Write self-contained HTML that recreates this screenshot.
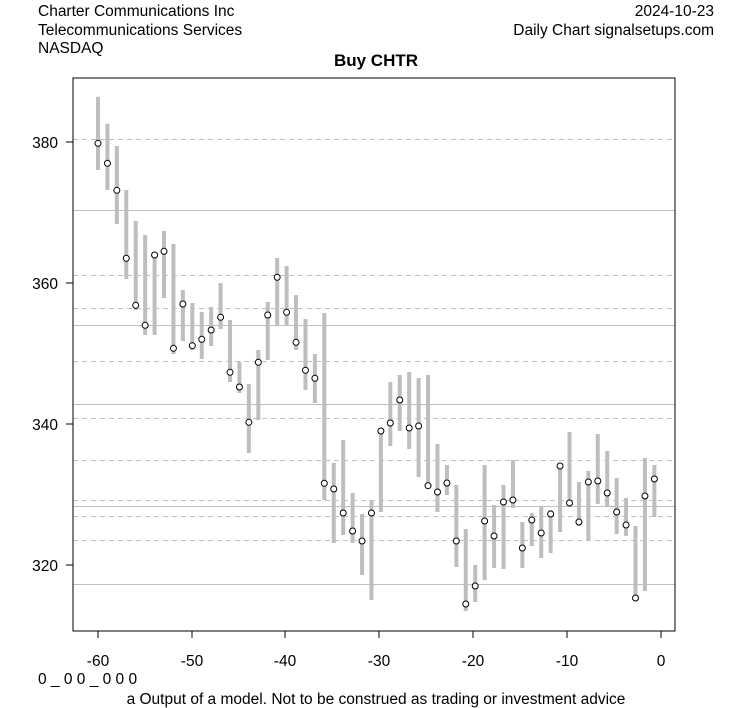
<!DOCTYPE html>
<html><head><meta charset="utf-8"><style>
body{margin:0;background:#fff;}
svg{display:block;font-family:"Liberation Sans",Arial,sans-serif;}
</style></head><body>
<svg width="753" height="708" viewBox="0 0 753 708" xmlns="http://www.w3.org/2000/svg">
<rect width="753" height="708" fill="#fff"/>
<text x="38" y="16" font-size="15.5">Charter Communications Inc</text>
<text x="38" y="35" font-size="15.5">Telecommunications Services</text>
<text x="38" y="53" font-size="15.5">NASDAQ</text>
<text x="714" y="16" font-size="15.5" text-anchor="end">2024-10-23</text>
<text x="714" y="35" font-size="15.5" text-anchor="end">Daily Chart signalsetups.com</text>
<text x="376" y="66" font-size="17" font-weight="bold" text-anchor="middle">Buy CHTR</text>
<g stroke="#c0c0c0" stroke-width="1">
<line x1="73" x2="675" y1="210.5" y2="210.5"/>
<line x1="73" x2="675" y1="325.5" y2="325.5"/>
<line x1="73" x2="675" y1="404.5" y2="404.5"/>
<line x1="73" x2="675" y1="506.5" y2="506.5"/>
<line x1="73" x2="675" y1="584.5" y2="584.5"/>
</g>
<g stroke="#c0c0c0" stroke-width="1" stroke-dasharray="5,4">
<line x1="73" x2="675" y1="139.5" y2="139.5"/>
<line x1="73" x2="675" y1="275.5" y2="275.5"/>
<line x1="73" x2="675" y1="308.5" y2="308.5"/>
<line x1="73" x2="675" y1="361.5" y2="361.5"/>
<line x1="73" x2="675" y1="418.5" y2="418.5"/>
<line x1="73" x2="675" y1="460.5" y2="460.5"/>
<line x1="73" x2="675" y1="500.5" y2="500.5"/>
<line x1="73" x2="675" y1="516.5" y2="516.5"/>
<line x1="73" x2="675" y1="540.5" y2="540.5"/>
</g>
<g id="bars" stroke="#bebebe" stroke-width="4"></g>
<g id="pts" fill="none" stroke="#000" stroke-width="1"></g>
<rect x="73" y="78" width="602" height="553" fill="none" stroke="#000" stroke-width="1"/>
<g stroke="#000">
<line x1="73" x2="66" y1="142" y2="142"/><line x1="73" x2="66" y1="283" y2="283"/>
<line x1="73" x2="66" y1="424" y2="424"/><line x1="73" x2="66" y1="565" y2="565"/>
<line x1="98" x2="98" y1="631" y2="638"/><line x1="192" x2="192" y1="631" y2="638"/>
<line x1="285" x2="285" y1="631" y2="638"/><line x1="379" x2="379" y1="631" y2="638"/>
<line x1="473" x2="473" y1="631" y2="638"/><line x1="567" x2="567" y1="631" y2="638"/>
<line x1="661" x2="661" y1="631" y2="638"/>
</g>
<g font-size="15.5" text-anchor="end">
<text x="58" y="148">380</text><text x="58" y="289">360</text>
<text x="58" y="430">340</text><text x="58" y="571">320</text>
</g>
<g font-size="15.5" text-anchor="middle">
<text x="98" y="666">-60</text><text x="192" y="666">-50</text><text x="285" y="666">-40</text>
<text x="379" y="666">-30</text><text x="473" y="666">-20</text><text x="567" y="666">-10</text>
<text x="661" y="666">0</text>
</g>
<text x="38" y="684" font-size="15.5">0 _ 0 0 _ 0 0 0</text>
<text x="376" y="704" font-size="15.5" text-anchor="middle">a Output of a model. Not to be construed as trading or investment advice</text>
</svg>
<script>
var d=[[96.7,170,143.3],[123.7,190,163.3],[146,224,190.3],[190,279,258.3],[221,310,305.3],[235,335,325.3],[253,335,255],[231,298,251.3],[244,354,348.3],[290,341,304],[303,350,345.7],[312,359,339.3],[307,346,330],[283,329,317.3],[320,382,372.3],[362,393,387],[384,453,422.3],[350,420,362.3],[302,360,315],[258,325,277.3],[266,326,312.3],[295,350,342.3],[319,390,370.3],[354,403,378.3],[313,500,483.3],[463,543,489],[440,535,513],[493,543,531],[514,575,541],[500,600,513],[429,512,431],[382,446,423],[375,431,400],[372,449,428],[378,477,426],[375,488,485.7],[444,512,492],[465,495,483],[485,567,541],[529,611,604],[565,602,586],[465,580,521],[505,568,536],[485,569,502],[460,508,500],[522,568,548],[513,546,520],[507,558,533],[510,553,514],[466,532,466],[432,502,503],[482,526,522],[471,540,482],[434,504,481],[451,507,493],[478,534,512],[498,536,525],[526,597,598],[458,591,496],[465,517,479]];
var ns="http://www.w3.org/2000/svg",b=document.getElementById("bars"),p=document.getElementById("pts");
d.forEach(function(r,i){var x=98+i*9.43;
var l=document.createElementNS(ns,"line");l.setAttribute("x1",x);l.setAttribute("x2",x);l.setAttribute("y1",r[0]);l.setAttribute("y2",r[1]);b.appendChild(l);
var c=document.createElementNS(ns,"circle");c.setAttribute("cx",x);c.setAttribute("cy",r[2]);c.setAttribute("r",3);c.setAttribute("fill","#fff");p.appendChild(c);});
</script>
</body></html>
